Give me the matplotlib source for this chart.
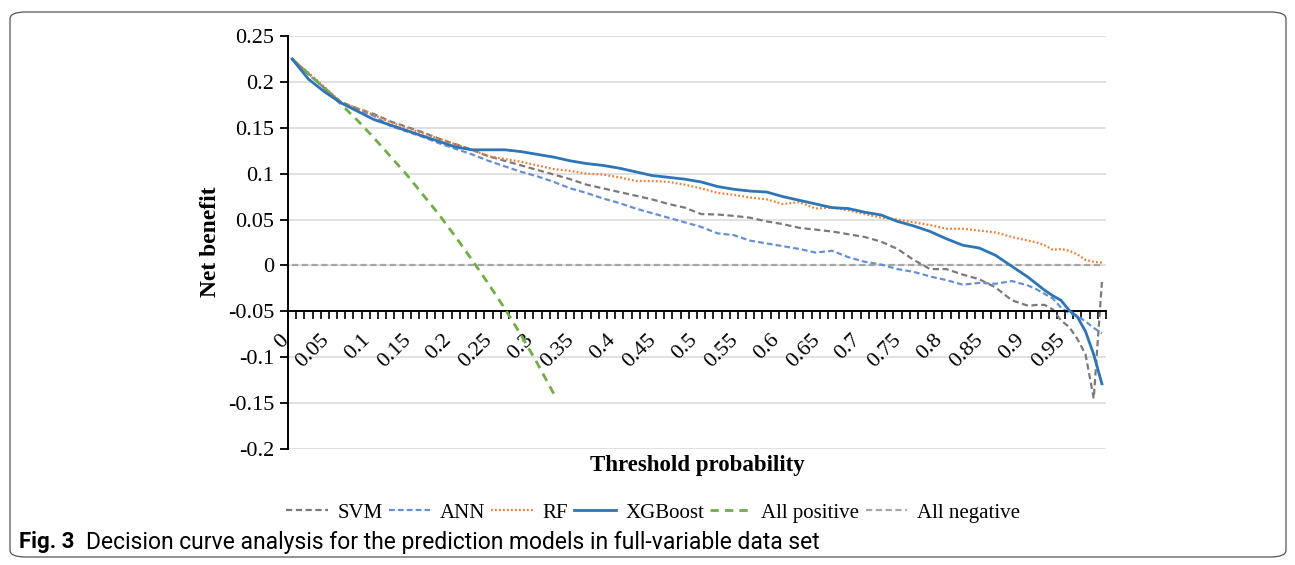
import matplotlib
matplotlib.use("Agg")
import matplotlib.pyplot as plt
from matplotlib.patches import FancyBboxPatch

# threshold probabilities (category axis 0 .. 0.99)
thresholds = [0.00, 0.02, 0.04, 0.06, 0.08, 0.10, 0.12, 0.14, 0.16, 0.18,
              0.20, 0.22, 0.24, 0.26, 0.28, 0.30, 0.32, 0.34, 0.36, 0.38,
              0.40, 0.42, 0.44, 0.46, 0.48, 0.50, 0.52, 0.54, 0.56, 0.58,
              0.60, 0.62, 0.64, 0.66, 0.68, 0.70, 0.72, 0.74, 0.76, 0.78,
              0.80, 0.82, 0.84, 0.86, 0.88, 0.90, 0.91, 0.92, 0.93, 0.94,
              0.95, 0.96, 0.97, 0.98, 0.99]

svm = [0.225, 0.209, 0.193, 0.178, 0.171, 0.165, 0.157, 0.151, 0.145, 0.138,
       0.132, 0.126, 0.119, 0.114, 0.109, 0.104, 0.099, 0.094, 0.088, 0.084,
       0.080, 0.076, 0.072, 0.067, 0.063, 0.056, 0.0555, 0.054, 0.052, 0.048,
       0.045, 0.041, 0.039, 0.037, 0.034, 0.031, 0.026, 0.018, 0.006, -0.004,
       -0.004, -0.010, -0.015, -0.024, -0.038, -0.044, -0.043, -0.043, -0.048, -0.060,
       -0.067, -0.080, -0.097, -0.145, -0.018]

ann = [0.225, 0.208, 0.193, 0.177, 0.170, 0.163, 0.152, 0.146, 0.140, 0.133,
       0.127, 0.121, 0.114, 0.108, 0.102, 0.097, 0.091, 0.084, 0.079, 0.073,
       0.068, 0.062, 0.057, 0.052, 0.047, 0.042, 0.035, 0.033, 0.027, 0.024,
       0.021, 0.018, 0.014, 0.016, 0.009, 0.004, 0.001, -0.004, -0.007, -0.012,
       -0.016, -0.021, -0.019, -0.020, -0.017, -0.022, -0.026, -0.031, -0.036, -0.046,
       -0.052, -0.055, -0.061, -0.068, -0.074]

rf = [0.225, 0.210, 0.194, 0.178, 0.171, 0.164, 0.156, 0.150, 0.144, 0.138,
      0.132, 0.126, 0.119, 0.116, 0.113, 0.109, 0.105, 0.103, 0.100, 0.099,
      0.096, 0.092, 0.092, 0.091, 0.088, 0.084, 0.079, 0.077, 0.074, 0.072,
      0.067, 0.069, 0.062, 0.063, 0.060, 0.056, 0.052, 0.050, 0.047, 0.044,
      0.040, 0.040, 0.038, 0.036, 0.031, 0.027, 0.025, 0.022, 0.017, 0.018,
      0.016, 0.012, 0.006, 0.004, 0.003]

xgb = [0.225, 0.203, 0.189, 0.177, 0.168, 0.159, 0.153, 0.147, 0.141, 0.135,
       0.129, 0.126, 0.126, 0.126, 0.124, 0.121, 0.118, 0.114, 0.111, 0.109,
       0.106, 0.102, 0.098, 0.096, 0.094, 0.091, 0.086, 0.083, 0.081, 0.080,
       0.075, 0.071, 0.067, 0.063, 0.062, 0.058, 0.055, 0.048, 0.043, 0.037,
       0.029, 0.022, 0.019, 0.011, -0.001, -0.013, -0.020, -0.027, -0.033, -0.038,
       -0.049, -0.056, -0.072, -0.097, -0.129]

# treat-all curve, only drawn down to 0.32
all_pos_t = [0.00, 0.02, 0.04, 0.06, 0.08, 0.10, 0.12, 0.14, 0.16, 0.18,
             0.20, 0.22, 0.24, 0.26, 0.28, 0.30, 0.32]
all_pos = [0.225, 0.209, 0.193, 0.1755, 0.158, 0.139, 0.119, 0.099, 0.077, 0.055,
           0.031, 0.006, -0.020, -0.047, -0.076, -0.107, -0.140]

all_neg_t = [0.00, 0.99]
all_neg = [0.0, 0.0]

y_ticks = [-0.2, -0.15, -0.1, -0.05, 0, 0.05, 0.1, 0.15, 0.2, 0.25]
x_label_ticks = [round(0.05 * k, 2) for k in range(20)]

serif = "Liberation Serif"
sans = ["Roboto", "DejaVu Sans"]

fig = plt.figure(figsize=(12.95, 5.65), dpi=100)
ax = fig.add_axes([288 / 1295, 1 - 449 / 565, (1106 - 288) / 1295, (449 - 36) / 565])

ax.set_xlim(-0.005, 0.995)
ax.set_ylim(-0.2, 0.25)

for v in y_ticks:
    if v != -0.05:
        ax.axhline(v, color="#d9d9d9", lw=1.1, zorder=0)

ax.plot(all_neg_t, all_neg, color="#a6a6a6", lw=1.6, ls=(0, (2.8, 1.6)), zorder=1, label="All negative")
ax.plot(thresholds, svm, color="#7a7a7a", lw=1.6, ls=(0, (2.8, 1.6)), zorder=2, label="SVM")
ax.plot(thresholds, ann, color="#6a8fd0", lw=1.6, ls=(0, (2.6, 1.4)), zorder=2, label="ANN")
ax.plot(thresholds, rf, color="#ed7d31", lw=1.6, ls=(0, (0.8, 1.0)), zorder=3, label="RF")
ax.plot(thresholds, xgb, color="#2e75b6", lw=2.0, zorder=4, label="XGBoost")
ax.plot(all_pos_t, all_pos, color="#70ad47", lw=2.0, ls=(0, (3.0, 2.2)), zorder=3, label="All positive")

# axes look
for side in ["top", "right"]:
    ax.spines[side].set_visible(False)
ax.spines["bottom"].set_position(("data", -0.05))
ax.spines["bottom"].set_linewidth(1.4)
ax.spines["left"].set_linewidth(1.4)

ax.set_yticks(y_ticks)
ax.set_yticklabels([f"{v:g}" for v in y_ticks], fontfamily=serif, fontsize=16)
ax.tick_params(axis="y", direction="out", length=6, width=1.3, pad=4)

ax.set_xticks(x_label_ticks)
ax.set_xticklabels([f"{v:g}" for v in x_label_ticks], fontfamily=serif, fontsize=16,
                   rotation=45, ha="right", va="top")
ax.set_xticks([-0.005 + 0.01 * k for k in range(101)], minor=True)
ax.tick_params(axis="x", which="major", length=0, pad=14)
ax.tick_params(axis="x", which="minor", direction="out", length=6, width=1.2)

fig.text(210 / 1295, 1 - 242 / 565, "Net benefit", rotation=90, ha="center", va="center",
         fontfamily=serif, fontsize=17, fontweight="bold")
fig.text(697 / 1295, 1 - 466 / 565, "Threshold probability", ha="center", va="center",
         fontfamily=serif, fontsize=16.5, fontweight="bold")

handles, labels = ax.get_legend_handles_labels()
order = ["SVM", "ANN", "RF", "XGBoost", "All positive", "All negative"]
hmap = dict(zip(labels, handles))
fig.legend([hmap[k] for k in order], order, loc="center", bbox_to_anchor=(653 / 1295, 1 - 513 / 565),
           ncol=6, frameon=False, prop={"family": serif, "size": 15},
           handlelength=2.0, handletextpad=0.45, columnspacing=0.3)

# caption and outer frame
fig.text(19 / 1295, 1 - 542 / 565, "Fig. 3", ha="left", va="center", fontsize=16,
         fontweight="bold", family=sans)
fig.text(86 / 1295, 1 - 542 / 565, "Decision curve analysis for the prediction models in full-variable data set",
         ha="left", va="center", fontsize=16.5, family=sans)

frame = FancyBboxPatch((10 / 1295, 8 / 565), 1276 / 1295, 545 / 565,
                       boxstyle="round,pad=0,rounding_size=0.012", transform=fig.transFigure,
                       fill=False, edgecolor="#555555", lw=0.9)
fig.patches.append(frame)

fig.savefig("out.png", dpi=100)
